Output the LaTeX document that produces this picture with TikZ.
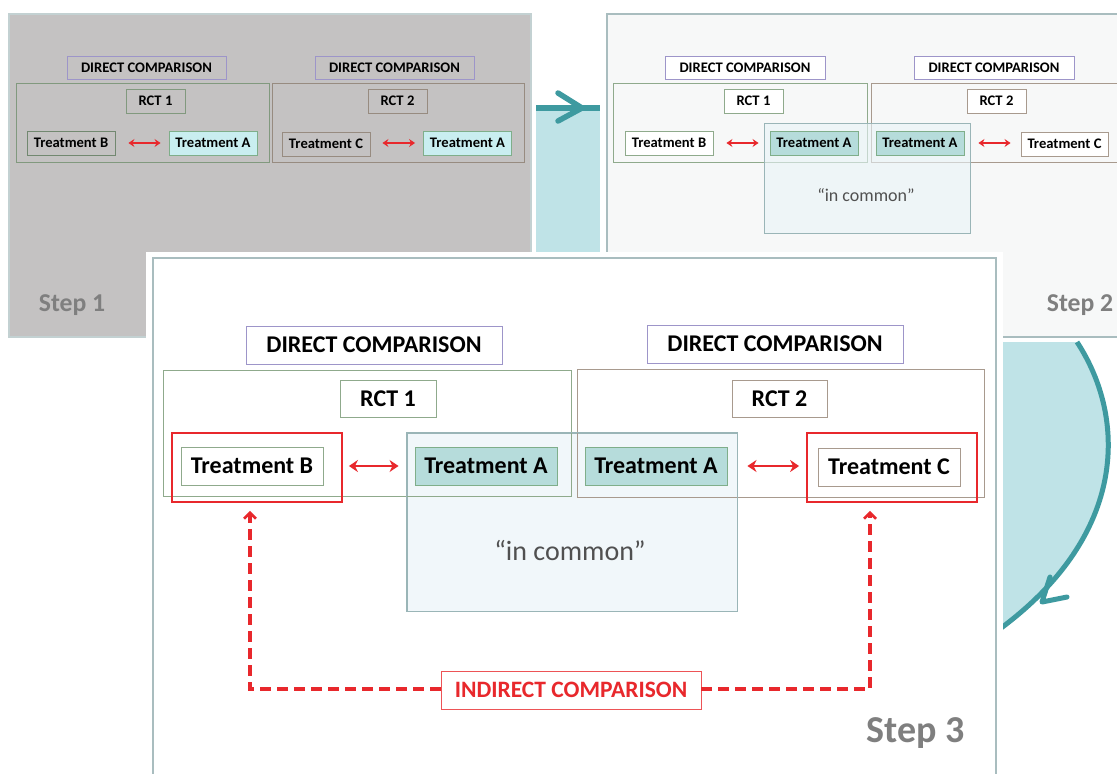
\documentclass[tikz,border=0pt]{standalone}
\usepackage{fontspec}
\setmainfont{Carlito}
\usetikzlibrary{arrows.meta}
\definecolor{sonegray}{HTML}{C4C2C2}
\definecolor{stwobg}{HTML}{F7F8F8}
\definecolor{panelb}{HTML}{A9BDBF}
\definecolor{tealfill}{HTML}{BFE3E7}
\definecolor{tealdark}{HTML}{3E9AA0}
\definecolor{dcc}{HTML}{9D95C9}
\definecolor{rgreen}{HTML}{8FAA8C}
\definecolor{rbrown}{HTML}{A89A8E}
\definecolor{tafillA}{HTML}{C9EEF0}
\definecolor{tafillB}{HTML}{B6DCDB}
\definecolor{tagreen}{HTML}{7FAE8A}
\definecolor{icfill}{HTML}{E8F3F7}
\definecolor{icb}{HTML}{9AB5B7}
\definecolor{myred}{HTML}{E8282C}
\definecolor{steptext}{HTML}{7F7F7F}
\definecolor{ictext}{HTML}{505050}
\tikzset{
  bx/.style={inner sep=0pt, line width=0.9pt},
  fsmall/.style={font=\bfseries\fontsize{14.6}{16}\selectfont},
  fbig/.style={font=\bfseries\fontsize{24}{28}\selectfont},
  dcbox/.style={bx, draw=dcc},
  rctout/.style={bx},
  rctlab/.style={bx},
  trbox/.style={bx},
  tabox/.style={bx, draw=tagreen},
  icbox/.style={bx, draw=icb, fill=icfill, fill opacity=0.6, text opacity=1},
  redbox/.style={inner sep=0pt, draw=myred, line width=1.8pt},
  dirarrow/.style={draw=myred, line width=2.8pt, {Stealth[length=9pt,width=12pt]}-{Stealth[length=9pt,width=12pt]}},
  dirarrowsm/.style={draw=myred, line width=1.8pt, {Stealth[length=6pt,width=8pt]}-{Stealth[length=6pt,width=8pt]}},
  indarrow/.style={draw=myred, line width=3.4pt, dash pattern=on 11pt off 6pt, -{Straight Barb[length=6pt,width=12pt,line width=2.6pt]}},
  steplab/.style={text=steptext, font=\bfseries\fontsize{25.7}{28}\selectfont},
  panel/.style={line width=1.2pt, draw=panelb},
}
\begin{document}
\begin{tikzpicture}[x=1pt,y=-1pt]
\useasboundingbox (0,0) rectangle (1117,774);
\clip (0,0) rectangle (1117,774);
\fill[white] (0,0) rectangle (1117,774);

% ---------- Step 1 panel ----------
\draw[panel, fill=sonegray, draw=panelb!70] (9,14) rectangle (531,337);
\node[dcbox, fsmall, minimum width=159pt, minimum height=23pt] (s1dc1) at (146.5,67.5) {DIRECT COMPARISON};
\node[dcbox, fsmall, minimum width=159pt, minimum height=23pt] (s1dc2) at (394.5,67.5) {DIRECT COMPARISON};
\node[rctout, draw=rgreen!90!black, minimum width=253pt, minimum height=79pt] (s1r1o) at (142.5,122.5) {};
\node[rctout, draw=rbrown!90!black, minimum width=252pt, minimum height=79pt] (s1r2o) at (398,122.5) {};
\node[rctlab, draw=rgreen!90!black, fsmall, minimum width=59pt, minimum height=24pt] (s1r1l) at (155.5,101) {RCT 1};
\node[rctlab, draw=rbrown!90!black, fsmall, minimum width=59pt, minimum height=24pt] (s1r2l) at (397.5,101) {RCT 2};
\node[trbox, draw=rgreen!80!black, fsmall, minimum width=88pt, minimum height=24pt] (s1tb) at (71,143) {Treatment B};
\node[tabox, fill=tafillA, fsmall, minimum width=88pt, minimum height=24pt] (s1ta) at (213,143) {Treatment A};
\node[trbox, draw=rbrown!90!black, fsmall, minimum width=88pt, minimum height=24pt] (s1tc) at (326,144) {Treatment C};
\node[tabox, fill=tafillA, fsmall, minimum width=88pt, minimum height=24pt] (s1ta2) at (467.5,143) {Treatment A};
\draw[dirarrowsm, shorten <=13pt, shorten >=8pt] (s1tb.east) -- (s1ta.west);
\draw[dirarrowsm, shorten <=12pt, shorten >=8pt] (s1tc.east |- s1ta2.west) -- (s1ta2.west);
\node[steplab] (s1lab) at (72,305) {Step 1};

% ---------- Step 2 panel ----------
\draw[panel, fill=stwobg] (607,14) rectangle (1130,337);
\node[dcbox, fill=white, fsmall, minimum width=160pt, minimum height=23pt] (s2dc1) at (745,67.5) {DIRECT COMPARISON};
\node[dcbox, fill=white, fsmall, minimum width=160pt, minimum height=23pt] (s2dc2) at (994,67.5) {DIRECT COMPARISON};
\node[rctout, draw=rgreen, minimum width=254pt, minimum height=79pt] (s2r1o) at (740,122.5) {};
\node[rctout, draw=rbrown, minimum width=254pt, minimum height=79pt] (s2r2o) at (998,122.5) {};
\node[rctlab, draw=rgreen, fill=white, fsmall, minimum width=59pt, minimum height=24pt] (s2r1l) at (753.5,101) {RCT 1};
\node[rctlab, draw=rbrown, fill=white, fsmall, minimum width=59pt, minimum height=24pt] (s2r2l) at (996.5,101) {RCT 2};
\node[icbox, minimum width=206pt, minimum height=110pt] (s2ic) at (867,178) {};
\node[text=ictext, font=\fontsize{18}{20}\selectfont] (s2ictxt) at (866,195) {“in common”};
\node[trbox, draw=rgreen, fill=white, fsmall, minimum width=88pt, minimum height=24pt] (s2tb) at (669,143) {Treatment B};
\node[tabox, fill=tafillB, fsmall, minimum width=88pt, minimum height=24pt] (s2ta) at (814,143) {Treatment A};
\node[tabox, fill=tafillB, fsmall, minimum width=88pt, minimum height=24pt] (s2ta2) at (920,143) {Treatment A};
\node[trbox, draw=rbrown, fill=white, fsmall, minimum width=87pt, minimum height=24pt] (s2tc) at (1064.5,144) {Treatment C};
\draw[dirarrowsm, shorten <=13pt, shorten >=11pt] (s2tb.east) -- (s2ta.west);
\draw[dirarrowsm, shorten <=14pt, shorten >=10pt] (s2ta2.east) -- (s2tc.west |- s2ta2.east);
\node[steplab] (s2lab) at (1080,305) {Step 2};

% ---------- teal connector 1 -> 2 ----------
\fill[tealfill] (536,105) rectangle (600,260);
\coordinate (t1a) at (536,108);
\coordinate (t1b) at (600,108);
\draw[tealdark, line width=5.5pt] (t1a) -- (t1b);
\draw[tealdark, line width=5.5pt, line cap=round, line join=round] (558,93) -- (582,108) -- (558,121);

% ---------- teal connector 2 -> 3 ----------
\fill[tealfill] (960,342) -- (1077,342) .. controls (1128,420) and (1128,540) .. (990,636) -- (960,640) -- cycle;
\draw[tealdark, line width=5pt] (1077,342) .. controls (1128,420) and (1128,540) .. (990,636);
\draw[tealdark, line width=5pt, line cap=round, line join=round] (1050,577) -- (1042,602) -- (1067,597);

% ---------- Step 3 panel ----------
\fill[white] (146,252) rectangle (1003,790);
\draw[panel, line width=1.6pt] (153,258) rectangle (996,790);
\node[dcbox, fbig, minimum width=256pt, minimum height=38pt] (s3dc1) at (374,345) {DIRECT COMPARISON};
\node[dcbox, fbig, minimum width=256pt, minimum height=38pt] (s3dc2) at (775,344) {DIRECT COMPARISON};
\node[icbox, minimum width=330pt, minimum height=178pt] (s3ic) at (572,522) {};
\node[rctout, draw=rgreen, minimum width=408pt, minimum height=126pt] (s3r1o) at (367,433) {};
\node[rctout, draw=rbrown, minimum width=407pt, minimum height=128pt] (s3r2o) at (780.5,433) {};
\draw[icb, line width=0.9pt] (s3ic.north west) rectangle (s3ic.south east);
\node[text=ictext, font=\fontsize{28}{32}\selectfont] (s3ictxt) at (570,550) {“in common”};
\node[rctlab, draw=rgreen, fbig, minimum width=96pt, minimum height=37pt] (s3r1l) at (388,398.5) {RCT 1};
\node[rctlab, draw=rbrown, fbig, minimum width=95pt, minimum height=37pt] (s3r2l) at (779.5,398.5) {RCT 2};
\node[redbox, minimum width=170pt, minimum height=69pt] (s3redB) at (257,467.5) {};
\node[redbox, minimum width=170pt, minimum height=69pt] (s3redC) at (892,467.5) {};
\node[trbox, draw=rgreen, fill=white, fbig, minimum width=142pt, minimum height=38pt] (s3tb) at (252,466) {Treatment B};
\node[tabox, fill=tafillB, fbig, minimum width=142pt, minimum height=38pt] (s3ta) at (486,466) {Treatment A};
\node[tabox, fill=tafillB, fbig, minimum width=142pt, minimum height=38pt] (s3ta2) at (656,466) {Treatment A};
\node[trbox, draw=rbrown, fill=white, fbig, minimum width=142pt, minimum height=38pt] (s3tc) at (889,467) {Treatment C};
\draw[dirarrow, shorten <=6pt, shorten >=16pt] (s3redB.east |- s3ta.west) -- (s3ta.west);
\draw[dirarrow, shorten <=20pt, shorten >=7pt] (s3ta2.east) -- (s3redC.west |- s3ta2.east);
\node[inner sep=0pt, draw=myred!80, line width=0.9pt, text=myred, font=\bfseries\fontsize{23.5}{26}\selectfont, minimum width=260pt, minimum height=38pt] (s3ind) at (571,690) {INDIRECT COMPARISON};
\coordinate (lc) at (250,689);
\coordinate (rc) at (870,689);
\draw[indarrow, shorten >=8pt] (s3ind.west |- lc) -- (lc) -- (lc |- s3redB.south);
\draw[indarrow, shorten >=8pt] (s3ind.east |- rc) -- (rc) -- (rc |- s3redC.south);
\node[text=steptext, font=\bfseries\fontsize{38}{42}\selectfont] (s3lab) at (916,733) {Step 3};
\end{tikzpicture}
\end{document}
